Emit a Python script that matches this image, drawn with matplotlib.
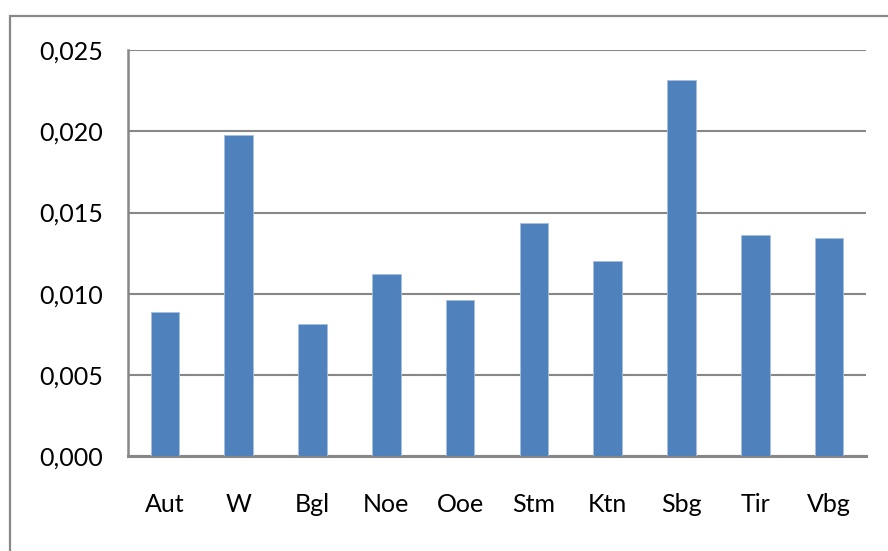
import matplotlib
matplotlib.use("Agg")
import matplotlib.pyplot as plt
from matplotlib.patches import Rectangle
from matplotlib.ticker import FuncFormatter

categories = ["Aut", "W", "Bgl", "Noe", "Ooe", "Stm", "Ktn", "Sbg", "Tir", "Vbg"]
values = [0.00887, 0.01979, 0.00815, 0.01123, 0.00961, 0.01435, 0.01199, 0.02318, 0.01361, 0.01345]
yticks = [0.000, 0.005, 0.010, 0.015, 0.020, 0.025]

plt.rcParams['font.family'] = ['Lato', 'DejaVu Sans']

fig = plt.figure(figsize=(8.88, 5.51), dpi=100)
# outer chart border (runs off right and bottom edges)
fig.patches.append(Rectangle((9.5 / 888, -0.05), 1.2, 1 - 16 / 551 + 0.05,
                             transform=fig.transFigure, fill=False,
                             edgecolor="#888888", linewidth=1.6, zorder=0))

ax = fig.add_axes([128 / 888, 1 - 456.4 / 551, (866 - 128) / 888, (456.4 - 50) / 551])
x = list(range(len(categories)))
ax.bar(x, values, width=0.39, color="#4F81BD", edgecolor="#A7BFDE", linewidth=0.6, zorder=3)

ax.set_xlim(-0.5, len(categories) - 0.5)
ax.set_ylim(0, 0.025)
ax.set_yticks(yticks)
ax.yaxis.set_major_formatter(FuncFormatter(lambda v, p: f"{v:.3f}".replace(".", ",")))
ax.set_xticks(x)
ax.set_xticklabels(categories)

ax.grid(axis="y", color="#878787", linewidth=1.5, zorder=0)
ax.set_axisbelow(True)
for s in ["top", "right"]:
    ax.spines[s].set_visible(False)
ax.spines["left"].set_color("#878787")
ax.spines["left"].set_linewidth(1.8)
ax.spines["bottom"].set_color("#878787")
ax.spines["bottom"].set_linewidth(2.2)
ax.tick_params(axis="both", length=0, labelsize=18, colors="black")
ax.tick_params(axis="y", pad=18)
ax.tick_params(axis="x", pad=26)

fig.savefig("out.png", dpi=100)
